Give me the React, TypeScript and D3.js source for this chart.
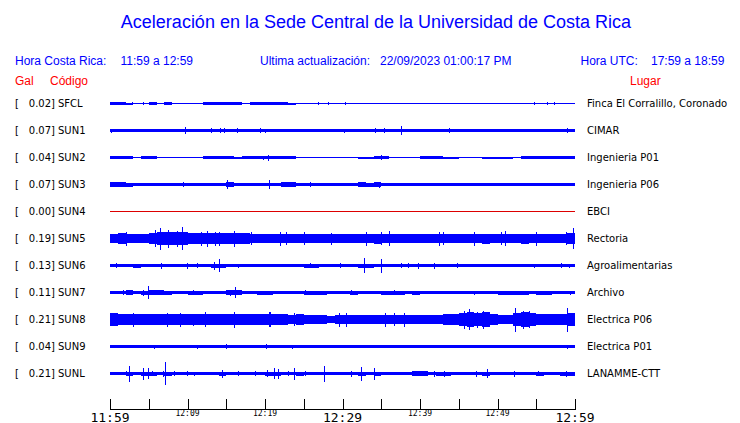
import React from "react";
import * as d3 from "d3";

const TITLE = "Aceleración en la Sede Central de la Universidad de Costa Rica";
const LOCAL_RANGE = "11:59 a 12:59";
const UTC_RANGE = "17:59 a 18:59";
const UPDATED = "22/09/2023 01:00:17 PM";

const codes = ["SFCL", "SUN1", "SUN2", "SUN3", "SUN4", "SUN5", "SUN6", "SUN7", "SUN8", "SUN9", "SUNL"];
const gal = ["0.02", "0.07", "0.04", "0.07", "0.00", "0.19", "0.13", "0.11", "0.21", "0.04", "0.21"];
const places = [
  "Finca El Corralillo, Coronado",
  "CIMAR",
  "Ingenieria P01",
  "Ingenieria P06",
  "EBCI",
  "Rectoria",
  "Agroalimentarias",
  "Archivo",
  "Electrica P06",
  "Electrica P01",
  "LANAMME-CTT",
];

// envelope: half amplitude per minute (relative units)
const envSFCL = [
  1.3, 1.3, 1.0, 0.7, 0.9, 1.3, 0.6, 1.1, 0.5, 0.6,
  0.9, 0.9, 1.3, 1.3, 1.3, 1.3, 1.1, 0.6, 1.3, 1.3,
  1.3, 1.3, 1.3, 1.0, 0.9, 0.9, 0.7, 0.5, 0.6, 0.5,
  0.6, 0.7, 0.5, 0.5, 0.5, 0.5, 0.5, 0.5, 0.5, 0.5,
  0.5, 0.5, 0.5, 0.5, 0.5, 0.5, 0.5, 0.5, 0.5, 0.5,
  0.5, 0.5, 0.5, 0.5, 0.5, 0.5, 0.5, 0.5, 0.5, 0.5,
];
const envSUN1 = [
  1.8, 1.8, 1.8, 1.7, 1.8, 1.8, 1.6, 1.5, 1.6, 1.6,
  1.5, 1.6, 1.6, 1.6, 1.6, 1.5, 1.6, 1.5, 1.6, 1.9,
  1.6, 1.5, 1.5, 1.5, 1.5, 1.4, 1.5, 1.3, 1.5, 1.5,
  1.5, 1.5, 1.5, 1.6, 1.8, 1.8, 1.6, 1.6, 1.6, 1.6,
  1.6, 1.6, 1.6, 1.8, 1.7, 1.6, 1.6, 1.5, 1.5, 1.3,
  1.6, 1.6, 1.6, 1.6, 1.6, 1.6, 1.6, 1.6, 1.6, 1.8,
];
const envSUN2 = [
  1.3, 1.3, 1.2, 0.9, 1.1, 1.1, 0.8, 0.7, 0.6, 0.8,
  0.8, 0.8, 1.1, 1.2, 1.2, 1.2, 1.0, 1.2, 1.3, 1.3,
  1.3, 1.3, 1.3, 1.2, 0.7, 0.8, 0.8, 0.7, 0.5, 0.7,
  0.6, 0.8, 1.0, 1.0, 1.2, 1.2, 0.6, 0.9, 0.8, 0.6,
  1.3, 1.3, 1.1, 1.0, 1.0, 0.9, 0.8, 0.8, 1.0, 1.0,
  1.0, 1.0, 0.7, 1.2, 1.3, 1.3, 1.2, 1.3, 1.3, 1.3,
];
const envSUN3 = [
  2.1, 2.1, 2.0, 1.7, 1.9, 1.5, 1.9, 1.9, 1.7, 1.7,
  1.2, 1.4, 1.3, 1.2, 1.7, 2.1, 1.9, 1.9, 1.9, 1.7,
  1.9, 1.6, 2.1, 2.1, 1.5, 1.2, 1.5, 1.3, 1.7, 1.6,
  1.2, 1.7, 2.1, 2.0, 2.1, 1.6, 1.6, 1.7, 1.5, 1.6,
  1.7, 1.6, 1.3, 1.7, 1.7, 1.8, 1.8, 1.8, 1.9, 1.7,
  1.8, 1.9, 1.8, 1.9, 1.8, 1.7, 1.8, 1.9, 1.7, 1.9,
];
const envSUN4 = [
  0, 0, 0, 0, 0, 0, 0, 0, 0, 0,
  0, 0, 0, 0, 0, 0, 0, 0, 0, 0,
  0, 0, 0, 0, 0, 0, 0, 0, 0, 0,
  0, 0, 0, 0, 0, 0, 0, 0, 0, 0,
  0, 0, 0, 0, 0, 0, 0, 0, 0, 0,
  0, 0, 0, 0, 0, 0, 0, 0, 0, 0,
];
const envSUN5 = [
  4.7, 5.2, 4.7, 4.9, 4.7, 5.2, 6.2, 6.7, 6.7, 6.2,
  5.7, 5.2, 5.7, 5.7, 5.2, 5.7, 5.2, 5.2, 4.7, 4.7,
  4.7, 4.9, 4.7, 4.2, 4.2, 4.5, 4.2, 4.2, 4.5, 4.7,
  4.7, 4.9, 4.7, 4.7, 5.0, 4.7, 4.9, 4.7, 4.7, 4.7,
  4.9, 4.7, 4.7, 4.7, 4.7, 4.9, 4.7, 4.7, 5.0, 4.7,
  4.7, 4.9, 4.7, 5.0, 4.7, 4.7, 4.7, 4.9, 4.7, 5.2,
];
const envSUN6 = [
  1.8, 1.7, 1.6, 2.0, 1.6, 1.7, 1.7, 1.6, 1.6, 1.7,
  1.7, 1.8, 1.6, 2.0, 2.0, 1.7, 1.8, 1.6, 1.6, 1.7,
  1.6, 1.6, 1.6, 1.6, 1.6, 2.0, 2.0, 1.6, 1.6, 1.8,
  1.6, 1.6, 2.0, 2.0, 1.6, 1.7, 1.6, 1.8, 1.8, 1.8,
  1.7, 1.8, 1.6, 1.6, 1.8, 1.7, 1.6, 1.8, 1.8, 1.7,
  1.7, 1.6, 1.8, 1.6, 1.8, 1.7, 1.6, 1.8, 1.7, 1.8,
];
const envSUN7 = [
  1.5, 1.6, 2.2, 1.5, 2.0, 2.2, 2.2, 2.0, 1.5, 1.5,
  2.0, 2.0, 1.5, 1.5, 1.6, 2.2, 2.2, 1.5, 1.5, 2.0,
  2.0, 1.5, 1.5, 1.5, 1.6, 2.0, 2.0, 2.0, 1.5, 1.5,
  1.6, 2.0, 1.5, 1.5, 1.6, 2.0, 2.0, 2.0, 1.6, 2.0,
  1.5, 1.5, 1.5, 1.5, 1.5, 1.5, 1.5, 1.6, 1.5, 1.5,
  2.0, 2.0, 2.0, 2.0, 1.5, 2.0, 2.0, 1.5, 1.6, 1.8,
];
const envSUN8 = [
  6.2, 5.7, 5.2, 5.2, 5.2, 5.2, 5.2, 5.2, 5.2, 5.2,
  5.2, 5.2, 5.7, 5.2, 5.2, 5.7, 5.2, 5.2, 5.2, 5.7,
  5.2, 5.2, 5.2, 4.7, 5.2, 4.7, 4.7, 4.2, 3.8, 4.2,
  4.5, 4.7, 4.7, 4.7, 4.9, 4.7, 4.7, 4.7, 4.7, 4.7,
  4.7, 4.2, 4.2, 5.2, 5.7, 6.2, 7.7, 6.7, 7.2, 5.2,
  4.2, 4.2, 6.7, 7.2, 6.2, 5.2, 5.2, 5.2, 5.2, 6.7,
];
const envSUN9 = [
  1.4, 1.4, 1.4, 1.1, 1.4, 1.4, 1.4, 1.4, 1.4, 1.4,
  1.4, 1.4, 1.4, 1.4, 1.4, 1.4, 1.4, 1.4, 1.4, 1.4,
  1.4, 1.4, 1.4, 1.4, 1.4, 1.4, 1.1, 1.4, 1.4, 1.4,
  1.1, 1.1, 1.4, 1.4, 1.1, 1.4, 1.1, 1.4, 1.4, 1.4,
  1.4, 1.4, 1.4, 1.4, 1.4, 1.4, 1.4, 1.4, 1.4, 1.4,
  1.4, 1.4, 1.4, 1.4, 1.4, 1.4, 1.4, 1.4, 1.4, 1.4,
];
const envSUNL = [
  1.5, 1.5, 2.0, 1.5, 2.0, 2.0, 1.5, 2.0, 1.8, 1.5,
  1.8, 1.5, 1.6, 1.6, 2.0, 1.8, 1.8, 1.5, 1.8, 1.6,
  2.0, 2.0, 1.8, 1.8, 2.0, 1.8, 1.5, 1.5, 1.5, 1.5,
  1.5, 1.8, 2.0, 1.8, 2.0, 1.5, 1.5, 1.6, 1.5, 2.2,
  2.2, 1.5, 2.0, 2.0, 1.5, 1.5, 1.6, 1.8, 2.0, 1.6,
  1.5, 1.8, 1.8, 1.5, 1.6, 2.0, 1.8, 1.6, 2.0, 2.0,
];

// spikes: [minute, half amplitude]
const spkSFCL = [[2.8, 1.5], [4.2, 1.5], [26.8, 1.5], [28.1, 1.2], [30.3, 1.5], [54.7, 1.5], [56.4, 1.5], [57.3, 1.2]];
const spkSUN1 = [[0.1, 2], [9.66, 3.5], [13, 2.5], [14.2, 2.5], [14.7, 2.3], [16.4, 2.5], [19.3, 2.2], [20, 2.0], [30.2, 2.0], [34.2, 2.2], [35.4, 2.3], [37.5, 4.3], [43.8, 2.8], [48.5, 1.8], [54.5, 1.7], [57.9, 1.9], [59, 2.5]];
const spkSUN2 = [[0.1, 1.8], [19.8, 2], [20.4, 3], [35, 2.5]];
const spkSUN3 = [[0.3, 2.5], [1.6, 2.7], [9.4, 2.5], [15.1, 4.3], [20.5, 4.3], [25.8, 2.2], [34.7, 3]];
const spkSUN4: number[][] = [];
const spkSUN5 = [[2, 7], [5.8, 8.5], [6.4, 11], [7.5, 9], [8.7, 8], [9.3, 11.5], [11.8, 7], [12.5, 8], [13.5, 7], [14, 7], [16, 8], [18.2, 6.5], [21.9, 7], [22.7, 6.5], [25, 6.5], [28.5, 6], [33, 7], [35, 6.5], [36, 7.5], [42.5, 7], [43, 6.5], [47, 7], [50.4, 6.5], [51, 7.5], [55, 7], [58.8, 6.5], [59.7, 10.7]];
const spkSUN6 = [[0.8, 2.5], [3.6, 2], [6.6, 3], [9.9, 3], [11.2, 2.5], [13.4, 4], [14.1, 6.5], [16.5, 2], [25.8, 2.5], [29.7, 2.5], [32.8, 7.5], [35, 7], [37.6, 2.5], [38.4, 2.5], [39.7, 3], [41.8, 3], [44.8, 2.5], [54.7, 2], [58.2, 2.5], [59.2, 2]];
const spkSUN7 = [[1.7, 2.5], [4.3, 3], [4.9, 6.5], [5.8, 2.5], [6.7, 2], [10.7, 2.5], [15.5, 3], [16.1, 5.3], [25.1, 2.8], [31.1, 2.3], [36.7, 2.3], [47, 2], [50.9, 2], [53, 2], [59.4, 2]];
const spkSUN8 = [[0.6, 6.5], [3, 7], [7.3, 7], [9, 7], [10.7, 6], [12.3, 7.5], [16, 8], [20.5, 7.5], [20.6, 7.5], [23.8, 6.5], [29.6, 7], [30.5, 7], [35.5, 7], [36.7, 6.5], [38, 7], [45.7, 9], [46.3, 10.5], [47.4, 8], [48.1, 9], [52.3, 12], [53.3, 9], [54, 8.5], [59, 12]];
const spkSUN9 = [[2.6, 1.8], [5.7, 2], [11.2, 2], [15, 2.2], [19.2, 1.8], [20.1, 2.5], [23.5, 2], [45.9, 1.8], [59, 2]];
const spkSUNL = [[2.1, 2.5], [2.5, 8], [2.9, 2], [4.2, 6], [4.9, 5.5], [5.4, 2.5], [6.8, 3], [7.1, 11.5], [8.2, 2.5], [9.9, 2.3], [10.9, 2], [14.4, 4], [16.5, 2.3], [18.7, 2.5], [20.2, 3.5], [21.2, 5.8], [21.7, 5], [23, 2.5], [23.8, 6], [25.1, 2.5], [27.6, 8], [31.1, 3], [32.4, 7], [34, 6], [39.9, 2.5], [41.8, 3], [43.1, 3], [47.2, 3], [48.7, 4.5], [52.1, 3], [55.2, 2.5], [58.8, 3]];

const envelopes = [envSFCL, envSUN1, envSUN2, envSUN3, envSUN4, envSUN5, envSUN6, envSUN7, envSUN8, envSUN9, envSUNL];
const spikes = [spkSFCL, spkSUN1, spkSUN2, spkSUN3, spkSUN4, spkSUN5, spkSUN6, spkSUN7, spkSUN8, spkSUN9, spkSUNL];

const majorTickLabels = ["11:59", "12:29", "12:59"];
const minorTickLabels = ["12:09", "12:19", "12:39", "12:49"];
const tickMinutes = d3.range(0, 61, 5);

const W = 740;
const H = 423;
const BLUE = "#0000ff";
const RED = "#ff0000";

export default function App() {
  const x = d3.scaleLinear().domain([0, 60]).range([110, 575]);
  const y = d3.scalePoint<string>().domain(codes).range([103, 373]);
  const amp = d3.scaleLinear().domain([0, 1]).range([0, 1]);
  const labelMin = (s: string) => {
    const [h, m] = s.split(":").map(Number);
    return (h * 60 + m) - (11 * 60 + 59);
  };

  return (
    <div style={{ position: "fixed", left: 0, top: 0, width: W, height: H, background: "#fff" }}>
      <svg width={W} height={H} style={{ display: "block" }}>
        <rect width={W} height={H} fill="#fff" />
        <text x={376} y={28} textAnchor="middle" fill={BLUE} fontFamily="Liberation Sans, Arial, sans-serif" fontSize={18}>
          {TITLE}
        </text>
        <g fontFamily="Liberation Sans, Arial, sans-serif" fontSize={12} fill={BLUE}>
          <text x={15} y={65}>Hora Costa Rica:</text>
          <text x={120.5} y={65}>{LOCAL_RANGE}</text>
          <text x={260} y={65}>Ultima actualización:</text>
          <text x={380} y={65}>{UPDATED}</text>
          <text x={580.5} y={65}>Hora UTC:</text>
          <text x={651} y={65}>{UTC_RANGE}</text>
        </g>
        <g fontFamily="Liberation Sans, Arial, sans-serif" fontSize={12} fill={RED}>
          <text x={15} y={84.5}>Gal</text>
          <text x={50} y={84.5}>Código</text>
          <text x={630} y={84.5}>Lugar</text>
        </g>
        {codes.map((c, i) => {
          const cy = Math.round(y(c)!);
          const env = envelopes[i];
          const allZero = env.every((v) => v === 0);
          const pts = env.map((v, k) => [k, v] as [number, number]);
          pts.push([env.length, env[env.length - 1]]);
          const area = d3
            .area<[number, number]>()
            .x((d) => x(d[0]))
            .y0((d) => cy + 0.5 + amp(d[1]))
            .y1((d) => cy + 0.5 - amp(d[1]))
            .curve(d3.curveStepAfter);
          return (
            <g key={c}>
              <g fontFamily="DejaVu Sans, sans-serif" fontSize={10} fill="#000">
                <text x={15} y={cy + 3.5}>[</text>
                <text x={55} y={cy + 3.5} textAnchor="end">{gal[i] + "]"}</text>
                <text x={58} y={cy + 3.5}>{c}</text>
                <text x={587} y={cy + 3.5}>{places[i]}</text>
              </g>
              {allZero ? (
                <line x1={x(0)} x2={x(60)} y1={cy + 0.5} y2={cy + 0.5} stroke="#dd0000" strokeWidth={1} shapeRendering="crispEdges" />
              ) : (
                <>
                  <path d={area(pts) || ""} fill={BLUE} shapeRendering="crispEdges" />
                  {spikes[i].map((s, k) => (
                    <line
                      key={k}
                      x1={Math.round(x(s[0])) + 0.5}
                      x2={Math.round(x(s[0])) + 0.5}
                      y1={cy + 0.5 - amp(s[1])}
                      y2={cy + 0.5 + amp(s[1])}
                      stroke={BLUE}
                      strokeWidth={1.4}
                      shapeRendering="crispEdges"
                    />
                  ))}
                </>
              )}
            </g>
          );
        })}
        <g shapeRendering="crispEdges" stroke="#000" strokeWidth={1}>
          <line x1={x(0)} x2={x(60)} y1={409.5} y2={409.5} />
          {tickMinutes.map((m) => (
            <line key={m} x1={Math.round(x(m)) + 0.5} x2={Math.round(x(m)) + 0.5} y1={399} y2={409.5} />
          ))}
        </g>
        <g fontFamily="DejaVu Sans Mono, monospace" fill="#000">
          {majorTickLabels.map((l) => (
            <text key={l} x={x(labelMin(l))} y={421.5} fontSize={13} textAnchor="middle">{l}</text>
          ))}
          {minorTickLabels.map((l) => (
            <text key={l} x={x(labelMin(l))} y={416} fontSize={8} textAnchor="middle">{l}</text>
          ))}
        </g>
      </svg>
    </div>
  );
}
